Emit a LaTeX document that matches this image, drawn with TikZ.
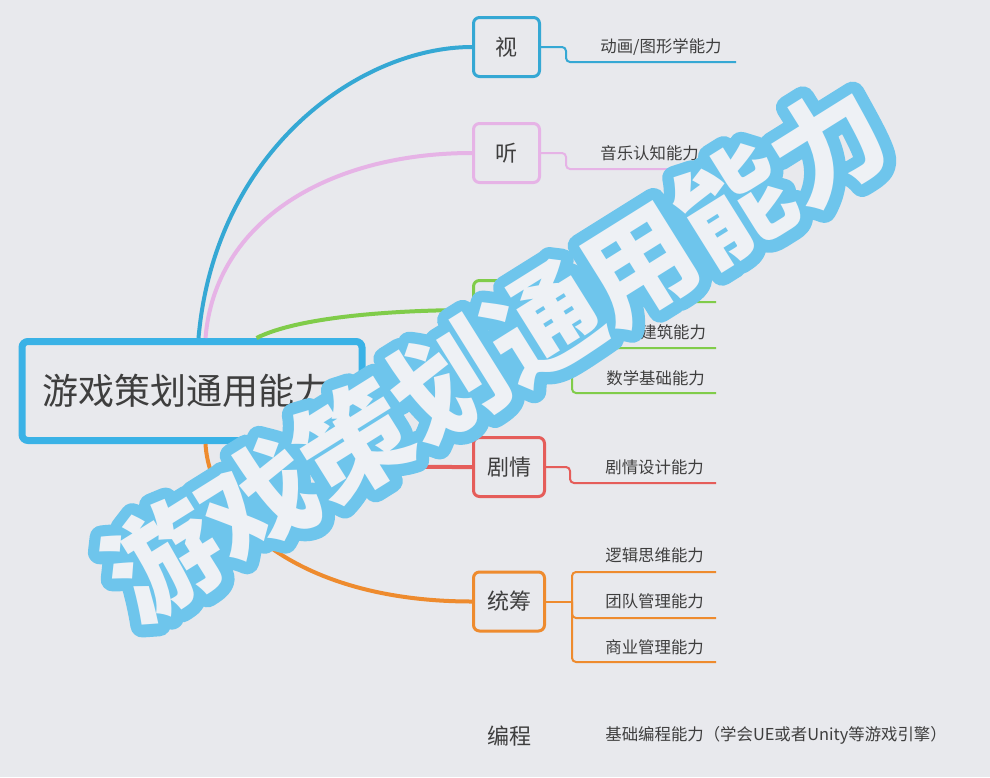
\documentclass[tikz,border=0pt]{standalone}
\usepackage{fontspec}
\setmainfont{Noto Sans CJK SC}
\usetikzlibrary{positioning,calc}

\definecolor{paper}{HTML}{E8E9ED}
\definecolor{ink}{HTML}{3E3E3E}
\definecolor{rootblue}{HTML}{3AB2E6}
\definecolor{vision}{HTML}{35A8D4}
\definecolor{listen}{HTML}{E6B3E6}
\definecolor{spatial}{HTML}{80CC4A}
\definecolor{story}{HTML}{E55D5A}
\definecolor{plan}{HTML}{EE8B2E}
\definecolor{skyline}{HTML}{6EC5EC}
\definecolor{glyph}{HTML}{EEF1F5}

% stroked text for the outline of the big title
\newcommand{\strokedtext}[2]{{\special{pdf:literal direct 1 j 1 J #1 w 2 Tr}#2\special{pdf:literal direct 0 Tr}}}

\tikzset{
  rootbox/.style={draw=rootblue, line width=3.5pt, rounded corners=3pt, fill=paper,
    anchor=west, text width=150pt, align=left, inner xsep=10pt, minimum height=49.5pt,
    font=\fontsize{18}{18}\selectfont, text=ink},
  topic/.style={draw, line width=1.5pt, rounded corners=3pt, fill=paper, inner sep=0pt,
    minimum width=33pt, minimum height=29.5pt, font=\fontsize{11}{11}\selectfont, text=ink},
  wide topic/.style={topic, minimum width=35.5pt},
  ability/.style={anchor=west, inner sep=0pt, font=\fontsize{8.2}{9}\selectfont, text=ink},
  branch/.style={line width=2pt},
  twig/.style={line width=1pt, rounded corners=2pt},
  bigtitle/.style={rotate=32, inner sep=0pt, font=\fontsize{56}{56}\selectfont\bfseries}
}

\begin{document}
\begin{tikzpicture}[x=0.5pt, y=-0.5pt]
\fill[paper] (0,0) rectangle (990,777);
\useasboundingbox (0,0) rectangle (990,777);

% main topics
\node[rootbox] (root) at (18.5,391) {游戏策划通用能力};
\node[topic, draw=vision] (vision) at (506.5,47) {视};
\node[topic, draw=listen] (listen) at (506.5,153) {听};
\node[topic, draw=spatial] (space) at (506.5,310) {};
\node[wide topic, draw=story] (story) at (509,467) {剧情};
\node[wide topic, draw=plan] (plan) at (509,601.5) {统筹};
\node[font=\fontsize{11}{11}\selectfont, text=ink] (code) at (509,736) {编程};

% branches from the root
\draw[branch, vision] ($(root.north west)+(180,0)$) .. controls (215,150) and (360,47) .. (vision.west);
\draw[branch, listen] ($(root.north west)+(187,0)$) .. controls (215,220) and (330,153) .. (listen.west);
\draw[branch, spatial] ($(root.north west)+(238,0)$) .. controls (300,316) and (400,310) .. (space.west);
\draw[branch, story] ($(root.south west)+(215,0)$) .. controls (260,467) and (380,467) .. (story.west);
\draw[branch, plan] ($(root.south west)+(187,0)$) .. controls (210,520) and (300,601.5) .. (plan.west);

% abilities
\node[ability] (v1) at (600,47) {动画/图形学能力};
\node[ability] (l1) at (600,153) {音乐认知能力};
\node[ability] (g2) at (640,332) {建筑能力};
\node[ability] (g3) at (606,378) {数学基础能力};
\node[ability] (s1) at (605,467) {剧情设计能力};
\node[ability] (p1) at (605,555) {逻辑思维能力};
\node[ability] (p2) at (605,601) {团队管理能力};
\node[ability] (p3) at (605,647) {商业管理能力};
\node[ability] (c1) at (605,735) {基础编程能力（学会UE或者Unity等游戏引擎）};

\coordinate (v1 end) at (736,62);
\coordinate (l1 end) at (716,169);
\coordinate (s1 end) at (716,483);
\coordinate (space fork) at (572,310);
\coordinate (g1 end) at (716,302);
\coordinate (g2 end) at (716,348);
\coordinate (g3 end) at (716,393);
\coordinate (plan fork) at (572,601.5);
\coordinate (p1 end) at (716,572);
\coordinate (p2 end) at (716,618);
\coordinate (p3 end) at (716,662);

\draw[twig, vision] (vision.east) -- ++(25,0) |- (v1 end);
\draw[twig, listen] (listen.east) -- ++(25,0) |- (l1 end);
\draw[twig, story] (story.east) -- ++(24,0) |- (s1 end);
\draw[twig, spatial] (space.east) -- (space fork);
\draw[twig, spatial] (g1 end) -| (space fork) |- (g3 end);
\draw[twig, spatial] (space fork) |- (g2 end);
\draw[twig, plan] (plan.east) -- (plan fork);
\draw[twig, plan] (p1 end) -| (plan fork) |- (p3 end);
\draw[twig, plan] (plan fork) |- (p2 end);

% big title laid over the map
\node[bigtitle, text=skyline] (title rim) at (496,352) {\strokedtext{12}{游戏策划通用能力}};
\node[bigtitle, text=glyph] (title) at (496,352) {游戏策划通用能力};
\end{tikzpicture}
\end{document}
